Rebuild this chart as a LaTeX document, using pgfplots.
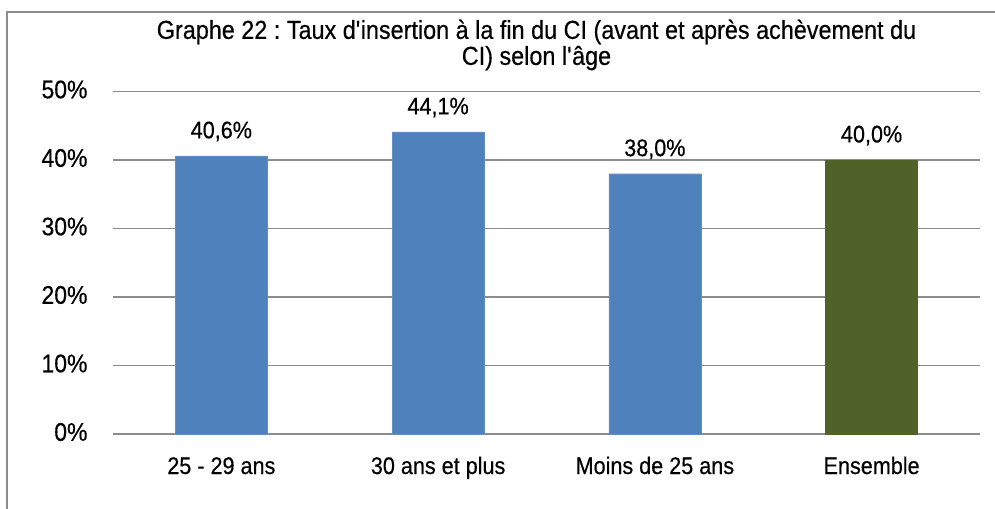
\documentclass[border=0pt]{standalone}
\usepackage{fontspec}
\setmainfont[FakeStretch=0.9, FakeBold=0.4]{Liberation Sans}
\usepackage{pgfplots}
\pgfplotsset{compat=1.18}
\definecolor{barblue}{HTML}{4F81BD}
\definecolor{bargreen}{HTML}{4F6228}
\definecolor{gridgray}{HTML}{8C8C8C}
\frenchspacing
\begin{document}
\begin{tikzpicture}
\useasboundingbox (-113bp,-75bp) rectangle (882bp,434bp);
\draw[gridgray, line width=2bp] (-106bp,-80bp) -- (-106bp,422bp) -- (890bp,422bp);
\begin{axis}[
  scale only axis,
  width=867bp, height=342.5bp,
  xmin=-0.5, xmax=3.5, ymin=0, ymax=50,
  axis line style={draw=none},
  major tick length=0pt,
  tick style={draw=none},
  ytick={0,10,20,30,40,50},
  yticklabel={\pgfmathprintnumber{\tick}\%},
  ymajorgrids,
  grid style={gridgray, line width=1.5bp},
  xtick={0,1,2,3},
  xticklabels={25 - 29 ans, 30 ans et plus, Moins de 25 ans, Ensemble},
  xticklabel style={anchor=base, yshift=-40bp, font=\fontsize{24bp}{28bp}\selectfont},
  yticklabel style={anchor=east, xshift=-22bp, yshift=2bp, font=\fontsize{25.5bp}{28bp}\selectfont},
  /pgf/number format/assume math mode=true,
  ybar, bar width=92bp, bar shift=0pt,
  nodes near coords={\pgfmathprintnumber[fixed,fixed zerofill,precision=1,use comma,assume math mode=true]{\pgfplotspointmeta}\%},
  every node near coord/.append style={font=\fontsize{24bp}{28bp}\selectfont, anchor=south, yshift=11bp, text=black},
  clip=false,
]
\addplot[fill=barblue, draw=barblue!90!white] coordinates {(0,40.6) (1,44.1) (2,38.0)};
\addplot[fill=bargreen, draw=bargreen] coordinates {(3,40.0)};
\end{axis}
\node[align=center, font=\fontsize{26bp}{26bp}\selectfont] at (423.5bp,389bp) {Graphe 22 : Taux d\textquotesingle insertion à la fin du CI (avant et après achèvement du\\CI) selon l\textquotesingle âge};
\end{tikzpicture}
\end{document}
